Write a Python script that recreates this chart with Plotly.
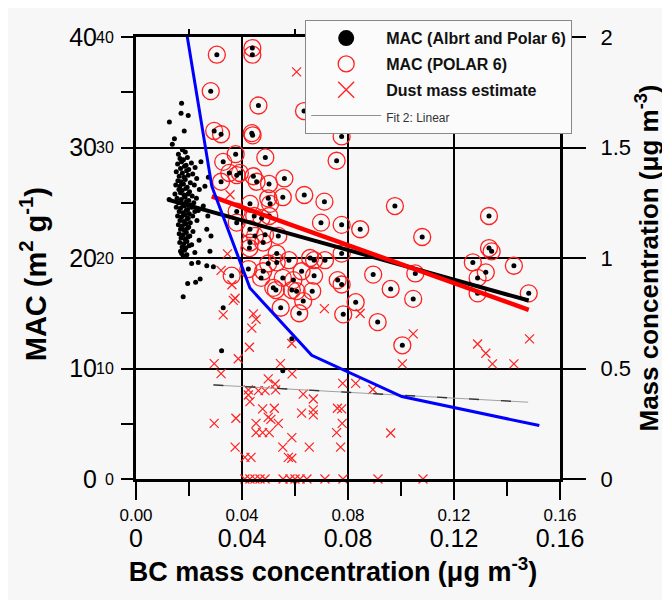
import plotly.graph_objects as go

# ---------------- data ----------------
# MAC (Alert + Polar 6) dots - Alert cluster part
alert_x = [0.0172, 0.0126, 0.0170, 0.0197, 0.0182, 0.0145, 0.0137, 0.0175, 0.0245, 0.0223,
           0.0273, 0.0260, 0.0125, 0.0254, 0.0271, 0.0267, 0.0283, 0.0279, 0.0172, 0.0210,
           0.0235, 0.0267, 0.0292, 0.0242, 0.0225, 0.0195, 0.0178, 0.0329, 0.0323, 0.0588, 0.0554,
           0.0160, 0.0186, 0.0166, 0.0179, 0.0194, 0.0157, 0.0172, 0.0189, 0.0209, 0.0168,
           0.0183, 0.0199, 0.0152, 0.0175, 0.0191, 0.0214, 0.0163, 0.0181, 0.0197, 0.0229,
           0.0158, 0.0170, 0.0186, 0.0205, 0.0150, 0.0166, 0.0179, 0.0193, 0.0220, 0.0162,
           0.0174, 0.0188, 0.0202, 0.0239, 0.0147, 0.0168, 0.0181, 0.0196, 0.0212, 0.0155,
           0.0171, 0.0185, 0.0199, 0.0228, 0.0160, 0.0176, 0.0190, 0.0205, 0.0218, 0.0152,
           0.0168, 0.0182, 0.0195, 0.0210, 0.0235, 0.0163, 0.0177, 0.0189, 0.0201, 0.0222,
           0.0157, 0.0172, 0.0185, 0.0197, 0.0214, 0.0166, 0.0180, 0.0192, 0.0205, 0.0230,
           0.0160, 0.0175, 0.0188, 0.0199, 0.0168, 0.0182, 0.0194, 0.0215, 0.0163, 0.0178,
           0.0190, 0.0203, 0.0170, 0.0185, 0.0196, 0.0238, 0.0165, 0.0180, 0.0192, 0.0210,
           0.0174, 0.0188, 0.0200, 0.0168, 0.0183, 0.0222, 0.0178, 0.0192]
alert_y = [34.0, 32.3, 33.1, 32.9, 31.5, 30.8, 30.3, 29.8, 28.7, 28.2,
           27.3, 26.5, 25.3, 24.7, 23.8, 22.6, 22.0, 20.6, 20.4, 19.5,
           19.6, 19.3, 19.2, 18.1, 17.8, 17.7, 16.5, 15.5, 11.6, 12.7, 9.8,
           29.4, 29.6, 29.0, 28.9, 29.1, 28.5, 28.7, 28.4, 28.6, 28.1,
           28.3, 28.0, 27.8, 27.7, 27.9, 27.6, 27.4, 27.3, 27.5, 27.2,
           27.0, 26.9, 27.1, 26.8, 26.6, 26.5, 26.7, 26.4, 26.6, 26.2,
           26.1, 26.3, 26.0, 26.2, 25.8, 25.9, 25.7, 25.8, 25.6, 25.4,
           25.3, 25.5, 25.2, 25.4, 25.0, 24.9, 25.1, 24.8, 25.0, 24.6,
           24.5, 24.7, 24.4, 24.6, 24.3, 24.2, 24.1, 24.3, 24.0, 24.2,
           23.8, 23.7, 23.9, 23.6, 23.8, 23.4, 23.3, 23.5, 23.2, 23.4,
           23.0, 22.9, 23.1, 22.8, 22.6, 22.5, 22.7, 22.4, 22.2, 22.1,
           22.3, 22.0, 21.8, 21.7, 21.9, 21.6, 21.4, 21.3, 21.5, 21.2,
           21.0, 20.9, 21.1, 20.6, 20.7, 20.5, 20.2, 20.3]

# MAC (POLAR 6) circles
polar_x = [0.0305, 0.0439, 0.0439, 0.0282, 0.0462, 0.0295, 0.0321, 0.0437, 0.0440, 0.0776,
           0.0634, 0.0376, 0.0488, 0.0757, 0.0329, 0.0352, 0.0380, 0.0392, 0.0443, 0.0455,
           0.0560, 0.0321, 0.0502, 0.0635, 0.0554, 0.0499, 0.0711, 0.0430, 0.0506, 0.0977,
           0.1332, 0.0380, 0.0446, 0.0474, 0.0503, 0.0380, 0.0698, 0.0776, 0.0846, 0.0430,
           0.1080, 0.0537, 0.0449, 0.0487, 0.0430, 0.0480, 0.0428, 0.1342, 0.1332, 0.0531,
           0.0776, 0.0577, 0.0657, 0.0672, 0.0713, 0.1271, 0.1426, 0.0499, 0.0531, 0.0424,
           0.0480, 0.0361, 0.0625, 0.0672, 0.0895, 0.1054, 0.1320, 0.0472, 0.0554, 0.0594,
           0.0761, 0.0776, 0.1289, 0.1289, 0.0518, 0.0528, 0.0588, 0.0606, 0.0665, 0.0961,
           0.1482, 0.1046, 0.0631, 0.0829, 0.0546, 0.0616, 0.0782, 0.0912, 0.1005]
polar_y = [38.4, 39.0, 38.4, 35.1, 33.8, 31.5, 31.2, 31.3, 31.1, 31.0,
           33.3, 29.4, 29.1, 28.8, 28.7, 27.7, 27.5, 27.7, 27.4, 26.9,
           27.2, 26.9, 26.7, 25.7, 25.5, 25.4, 25.1, 24.9, 24.9, 24.7,
           23.8, 24.2, 23.8, 23.6, 23.8, 23.2, 23.2, 23.0, 22.6, 22.6,
           21.9, 22.0, 22.0, 22.1, 21.4, 21.4, 20.9, 20.6, 20.9, 20.4,
           20.4, 19.8, 20.0, 19.8, 19.8, 19.6, 19.3, 19.5, 19.6, 19.0,
           18.8, 18.4, 18.8, 18.4, 18.5, 18.6, 18.7, 18.2, 18.2, 18.0,
           18.0, 17.6, 18.2, 16.8, 17.3, 17.1, 17.1, 17.0, 17.0, 17.2,
           16.8, 16.3, 16.1, 16.0, 15.5, 15.0, 14.9, 14.2, 12.1]

# Dust mass estimate (right axis, ug m-3)
dust_x = [0.0606, 0.0355, 0.0345, 0.0321, 0.0362, 0.0374, 0.0367, 0.0329, 0.0443, 0.0453,
          0.0437, 0.0428, 0.0711, 0.0846, 0.1046, 0.0588, 0.0386, 0.0295, 0.0545, 0.1005,
          0.1289, 0.1320, 0.1345, 0.1426, 0.1485, 0.0321, 0.0589, 0.0499, 0.0525, 0.0780,
          0.0829, 0.0894, 0.0424, 0.0462, 0.0487, 0.0527, 0.0424, 0.0631, 0.0430, 0.0669,
          0.0478, 0.0522, 0.0669, 0.0760, 0.0776, 0.0625, 0.0669, 0.0499, 0.0509, 0.0377,
          0.0295, 0.0453, 0.0537, 0.0778, 0.0453, 0.0478, 0.0503, 0.0757, 0.0961, 0.0588,
          0.0374, 0.0554, 0.0654, 0.0772, 0.0411, 0.0434, 0.0575, 0.0588,
          0.0411, 0.0430, 0.0449, 0.0468, 0.0487, 0.0555, 0.0581, 0.0600, 0.0619, 0.0645,
          0.0713, 0.0781, 0.0913, 0.1083]
dust_y = [1.842, 1.286, 1.019, 0.944, 0.879, 0.818, 0.808, 0.743, 0.747, 0.723,
          0.683, 0.596, 0.771, 0.749, 0.657, 0.613, 0.544, 0.522, 0.522, 0.521,
          0.611, 0.569, 0.521, 0.521, 0.634, 0.477, 0.476, 0.453, 0.430, 0.433,
          0.433, 0.405, 0.403, 0.400, 0.400, 0.403, 0.380, 0.384, 0.350, 0.362,
          0.317, 0.320, 0.313, 0.320, 0.317, 0.298, 0.290, 0.279, 0.270, 0.275,
          0.252, 0.252, 0.252, 0.252, 0.210, 0.210, 0.210, 0.210, 0.208, 0.187,
          0.144, 0.144, 0.144, 0.144, 0.098, 0.098, 0.098, 0.094,
          0.0, 0.0, 0.0, 0.0, 0.0, 0.0, 0.0, 0.0, 0.0, 0.0,
          0.0, 0.0, 0.0, 0.0]

# Linear fits
fit_all_x = [0.0122, 0.1482]
fit_all_y = [25.27, 16.15]
fit_polar_x = [0.0286, 0.1482]
fit_polar_y = [25.57, 15.31]
fit_dust_x = [0.0292, 0.1480]
fit_dust_y = [0.4255, 0.3475]

# Blue mass concentration curve (right axis)
mass_x = [0.0180, 0.0286, 0.0430, 0.0663, 0.1003, 0.1522]
mass_y = [2.10, 1.325, 0.864, 0.560, 0.373, 0.242]

x_ticks = [0, 0.04, 0.08, 0.12, 0.16]
x_small_labels = ["0.00", "0.04", "0.08", "0.12", "0.16"]
x_big_labels = ["0", "0.04", "0.08", "0.12", "0.16"]
x_top_minor = [0.02, 0.06, 0.10, 0.14]
y_ticks = [0, 10, 20, 30, 40]
y_labels = ["0", "10", "20", "30", "40"]
y2_ticks = [0, 0.5, 1, 1.5, 2]
y2_labels = ["0", "0.5", "1", "1.5", "2"]

FONT = "Liberation Sans, Arial, sans-serif"
BG = "#f7f7f7"
RED = "#ff2020"

fig = go.Figure()

# dust crosses (right axis)
fig.add_trace(go.Scatter(x=dust_x, y=dust_y, mode="markers", yaxis="y2", showlegend=False,
                         cliponaxis=False,
                         marker=dict(symbol="x-thin", size=9, color=RED, line=dict(color=RED, width=1.2))))
# dust fit (thin gray with dark dashes)
fig.add_trace(go.Scatter(x=fit_dust_x, y=fit_dust_y, mode="lines", yaxis="y2", showlegend=False,
                         line=dict(color="#a0a0a0", width=1)))
fig.add_trace(go.Scatter(x=fit_dust_x, y=fit_dust_y, mode="lines", yaxis="y2", showlegend=False,
                         line=dict(color="#333333", width=1.3, dash="10px,22px")))
# polar circles
fig.add_trace(go.Scatter(x=polar_x, y=polar_y, mode="markers", showlegend=False,
                         marker=dict(symbol="circle-open", size=17, color=RED, line=dict(color=RED, width=1.3))))
# all MAC dots
fig.add_trace(go.Scatter(x=alert_x + polar_x, y=alert_y + polar_y, mode="markers", showlegend=False,
                         marker=dict(symbol="circle", size=5, color="black")))
# blue curve
fig.add_trace(go.Scatter(x=mass_x, y=mass_y, mode="lines", yaxis="y2", showlegend=False,
                         line=dict(color="#0000ff", width=3)))
# fits
fig.add_trace(go.Scatter(x=fit_all_x, y=fit_all_y, mode="lines", showlegend=False,
                         line=dict(color="black", width=4)))
fig.add_trace(go.Scatter(x=fit_polar_x, y=fit_polar_y, mode="lines", showlegend=False,
                         line=dict(color="#ff0000", width=4.5)))

# placeholder traces so that the overlay axes (second tick-label rows, top ticks) are drawn
fig.add_trace(go.Scatter(x=[None], y=[None], xaxis="x2", yaxis="y3", showlegend=False, hoverinfo="skip"))
fig.add_trace(go.Scatter(x=[None], y=[None], xaxis="x3", yaxis="y", showlegend=False, hoverinfo="skip"))

# legend entries
fig.add_trace(go.Scatter(x=[None], y=[None], mode="markers", name="<b>MAC (Albrt and Polar 6)</b>",
                         legendgroup="a", marker=dict(symbol="circle", size=18, color="black")))
fig.add_trace(go.Scatter(x=[None], y=[None], mode="markers", name="<b>MAC (POLAR 6)</b>",
                         legendgroup="b",
                         marker=dict(symbol="circle-open", size=18, color=RED, line=dict(color=RED, width=1.3))))
fig.add_trace(go.Scatter(x=[None], y=[None], mode="markers", name="<b>Dust mass estimate</b>",
                         legendgroup="c",
                         marker=dict(symbol="x-thin", size=18, color=RED, line=dict(color=RED, width=1.3))))
fig.add_trace(go.Scatter(x=[None], y=[None], mode="lines",
                         name="<span style='font-size:12px;color:#333'>Fit 2: Linear</span>",
                         legendgroup="d", line=dict(color="#909090", width=1)))

# page body has an 8px margin: figure is 662x592 so the plot sits where the reference's does
fig.update_layout(
    width=662, height=592,
    margin=dict(l=128, r=110, t=29, b=121, autoexpand=False),
    paper_bgcolor=BG, plot_bgcolor=BG,
    font=dict(family=FONT, color="black"),
    showlegend=True,
    legend=dict(x=0.399, y=1.038, xanchor="left", yanchor="top",
                bgcolor="#fbfbfb", bordercolor="#888888", borderwidth=1,
                font=dict(size=16, family=FONT, color="#111"),
                itemwidth=70, tracegroupgap=2),
    xaxis=dict(range=[0, 0.16], tickvals=x_ticks, ticktext=x_small_labels, automargin=False,
               tickfont=dict(size=17), ticks="outside", ticklen=18, tickwidth=2, tickcolor="black",
               ticklabelstandoff=1,
               minor=dict(ticks="outside", ticklen=14, tickwidth=2, tickcolor="black", dtick=0.02, showgrid=False),
               showgrid=True, gridcolor="black", gridwidth=1.5, zeroline=False,
               showline=True, linecolor="black", linewidth=3, mirror=True),
    xaxis2=dict(range=[0, 0.16], overlaying="x", side="bottom", anchor="y", automargin=False,
                tickvals=x_ticks, ticktext=x_big_labels, tickfont=dict(size=25),
                ticks="", ticklabelstandoff=42, showgrid=False, zeroline=False, showline=False,
                title=dict(text="<b>BC mass concentration (μg m<sup>-3</sup>)</b>&nbsp;&nbsp;&nbsp;&nbsp;",
                           font=dict(size=27), standoff=11)),
    xaxis3=dict(range=[0, 0.16], overlaying="x", side="top", anchor="y", automargin=False,
                tickvals=x_top_minor, showticklabels=False,
                ticks="outside", ticklen=7, tickwidth=2, tickcolor="black",
                showgrid=False, zeroline=False, showline=False),
    yaxis=dict(range=[0, 40], tickvals=y_ticks, ticktext=y_labels, tickfont=dict(size=16), automargin=False,
               ticks="outside", ticklen=12, tickwidth=2, tickcolor="black", ticklabelstandoff=4,
               minor=dict(ticks="outside", ticklen=12, tickwidth=2, tickcolor="black", dtick=5, showgrid=False),
               showgrid=True, gridcolor="black", gridwidth=1.5, zeroline=False,
               showline=True, linecolor="black", linewidth=3),
    yaxis3=dict(range=[0, 40], overlaying="y", side="left", anchor="x", automargin=False,
                tickvals=y_ticks, ticktext=y_labels, tickfont=dict(size=25),
                ticks="", ticklabelstandoff=38, showgrid=False, zeroline=False, showline=False,
                title=dict(text="<b>MAC (m<sup>2</sup> g<sup>-1</sup>)</b>&nbsp;&nbsp;&nbsp;&nbsp;",
                           font=dict(size=29), standoff=14)),
    yaxis2=dict(range=[0, 2], overlaying="y", side="right", anchor="x", automargin=False,
                tickvals=y2_ticks, ticktext=y2_labels, tickfont=dict(size=22),
                ticks="outside", ticklen=23, tickwidth=2, tickcolor="black", ticklabelstandoff=10,
                showgrid=False, zeroline=False, showline=True, linecolor="black", linewidth=3,
                title=dict(text="<b>Mass concentration (μg m<sup>-3</sup>)</b>", font=dict(size=26), standoff=6)),
)

fig.write_html("out.html")
